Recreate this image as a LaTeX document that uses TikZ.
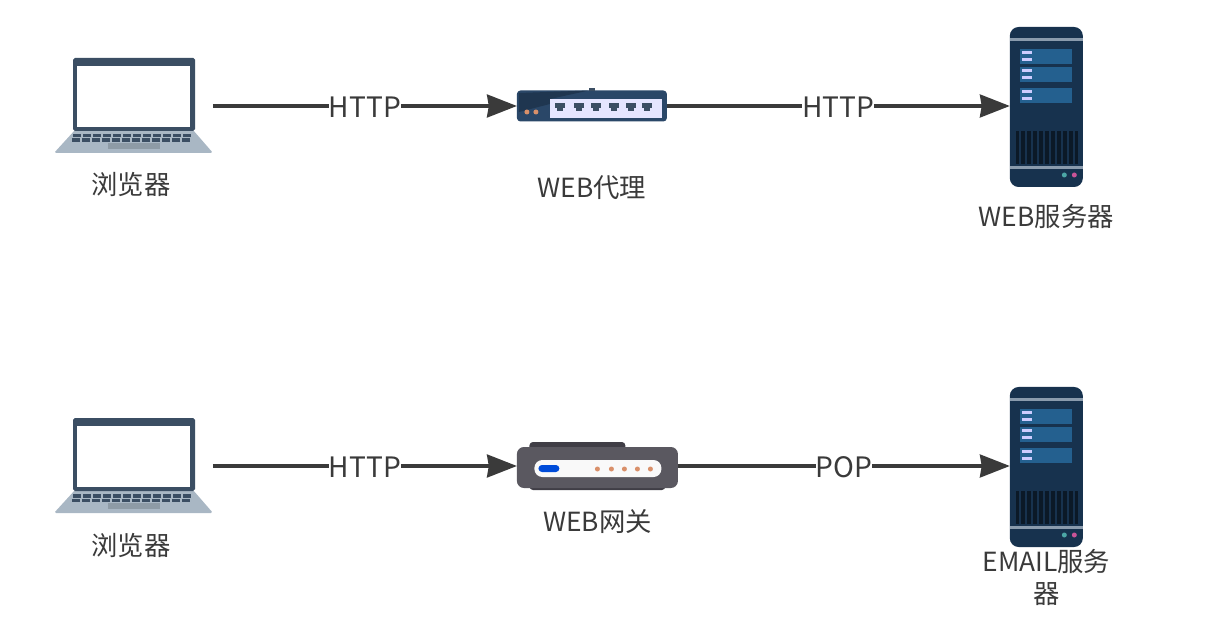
\documentclass[tikz,border=0pt]{standalone}
\usepackage{fontspec}
\setmainfont{Noto Sans CJK SC}
\usepackage{xcolor}
\usetikzlibrary{positioning,arrows.meta}
\definecolor{inkgrey}{HTML}{3A3A3A}
\definecolor{slateblue}{HTML}{3B4E63}
\definecolor{deckgrey}{HTML}{A9B7C4}
\definecolor{padgrey}{HTML}{8E9BA6}
\definecolor{navyside}{HTML}{2A4768}
\definecolor{navyshade}{HTML}{1F3650}
\definecolor{servernavy}{HTML}{17324E}
\definecolor{serverband}{HTML}{8A9BAD}
\definecolor{rowblue}{HTML}{24608F}
\definecolor{routergrey}{HTML}{5A5860}
\definecolor{routerdark}{HTML}{403E46}
\definecolor{ledorange}{HTML}{D9906A}
\tikzset{
    pics/laptop/.style={code={
        \fill[deckgrey, rounded corners=1pt] (-58,24) -- (60,24) -- (80,47) -- (-79,47) -- cycle;
        \fill[slateblue, rounded corners=1pt] (-60,-48) rectangle (62,25);
        \fill[white] (-56,-40) rectangle (57,21);
        \foreach \keyx in {-60,-50,...,50} {
            \fill[slateblue] (\keyx,28) rectangle ++(8,3.5);
            \fill[slateblue] (\keyx-1,32.5) rectangle ++(8,3.5);
        }
        \fill[padgrey] (-25,37) rectangle (27,43);
    }},
    pics/switchbox/.style={code={
        \fill[navyside, rounded corners=2pt] (-75,-15.5) rectangle (75,15.5);
        \fill[navyshade] (-73,-13) -- (-3,-15.5) -- (-42,-7) -- (-42,-2) -- (-73,6) -- cycle;
        \fill[slateblue] (-3,-18) rectangle (3,-15);
        \fill[blue!10!white] (-42,-7) rectangle (70,12);
        \foreach \portx in {-32,-13,4,22,39,55} {
            \fill[slateblue] (\portx-5,-3) rectangle (\portx+5,2);
            \fill[slateblue] (\portx-3,2) rectangle (\portx+3,5);
        }
        \foreach \ledx in {-65,-56} \fill[ledorange] (\ledx,6) circle (2.5);
    }},
    pics/serverbox/.style={code={
        \fill[servernavy, rounded corners=5pt] (-36.5,-79) rectangle (36.5,81);
        \fill[serverband] (-36.5,-68) rectangle (36.5,-65);
        \fill[serverband] (-36.5,60) rectangle (36.5,63);
        \foreach \rowy in {-57,-39,-18} {
            \fill[rowblue] (-26,\rowy) rectangle (26,\rowy+15);
            \fill[white!80!blue] (-24,\rowy+2) rectangle (-14,\rowy+5);
            \fill[white!80!blue] (-24,\rowy+9) rectangle (-14,\rowy+12);
        }
        \fill[black!50!servernavy] (-30,25) rectangle (32,58);
        \foreach \ventx in {-27,-21,...,30} \fill[servernavy] (\ventx,25) rectangle ++(1.5,33);
        \fill[teal!70!white] (18,69) circle (2.5);
        \fill[magenta!60!gray] (28,69) circle (2.5);
    }},
    pics/routerbox/.style={code={
        \fill[routerdark, rounded corners=2pt] (-68,-24) rectangle (28,-12);
        \fill[routerdark, rounded corners=2pt] (-68,16) rectangle (68,24);
        \fill[routergrey, rounded corners=4pt] (-80.5,-19) rectangle (80.5,22);
        \fill[white!95!gray, rounded corners=4.5pt] (-63,-6) rectangle (64,11);
        \fill[blue!65!cyan!85!black, rounded corners=2pt] (-59,-1) rectangle (-38,6);
        \foreach \ledx in {0,14,27,40,53} \fill[ledorange] (\ledx,3) circle (2.5);
    }}
}
\begin{document}
\begin{tikzpicture}[
    x=0.02cm, y=-0.02cm,
    iconbox/.style={inner sep=0pt, outer sep=0pt},
    laptopicon/.style={iconbox, minimum width=3.2cm, minimum height=1.9cm},
    switchicon/.style={iconbox, minimum width=3cm, minimum height=0.62cm},
    routericon/.style={iconbox, minimum width=3.22cm, minimum height=0.96cm},
    servericon/.style={iconbox, minimum width=1.46cm, minimum height=3.2cm},
    caption/.style={text=inkgrey, align=center, inner sep=0pt, font=\fontsize{15}{18.7}\selectfont},
    proto/.style={text=inkgrey, fill=white, inner sep=0pt, yshift=-0.03cm, font=\fontsize{16}{18}\selectfont},
    flow/.style={draw=inkgrey, line width=1.9pt, -{Stealth[length=17pt, width=13pt, inset=1pt]}}
]
\useasboundingbox (0,0) rectangle (1209,634);

% upper row
\node[laptopicon] (browserA) at (133,106) {};
\node[switchicon, right=6.08cm of browserA] (proxy) {};
\node[servericon, right=6.86cm of proxy] (webserver) {};
\pic at (browserA) {laptop};
\pic at (proxy) {switchbox};
\pic at (webserver) {serverbox};

\node[caption, below=0.38cm of browserA, xshift=-0.04cm] (browserAtext) {浏览器};
\node[caption, below=1.07cm of proxy] (proxytext) {WEB代理};
\node[caption, below=0.37cm of webserver] (webservertext) {WEB服务器};

\draw[flow] (browserA) -- node[proto] {HTTP} (proxy);
\draw[flow] (proxy) -- node[proto] {HTTP} (webserver);

% lower row
\node[laptopicon] (browserB) at (133,466) {};
\node[routericon, right=6.08cm of browserB] (gateway) {};
\node[servericon, right=6.64cm of gateway] (mailserver) {};
\pic at (browserB) {laptop};
\pic at (gateway) {routerbox};
\pic at (mailserver) {serverbox};

\node[caption, below=0.39cm of browserB, xshift=-0.04cm] (browserBtext) {浏览器};
\node[caption, below=0.39cm of gateway] (gatewaytext) {WEB网关};
\node[caption, below=0.05cm of mailserver] (mailservertext) {EMAIL服务\\器};

\draw[flow] (browserB) -- node[proto] {HTTP} (gateway);
\draw[flow] (gateway) -- node[proto] {POP} (mailserver);
\end{tikzpicture}
\end{document}
